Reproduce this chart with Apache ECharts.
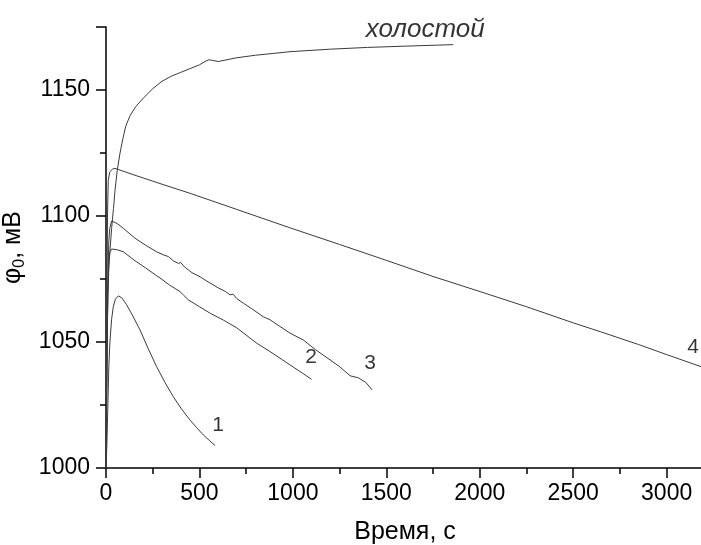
<!DOCTYPE html>
<html>
<head>
<meta charset="utf-8">
<script src="https://cdn.jsdelivr.net/npm/echarts@6/dist/echarts.min.js"></script>
<style>
html, body { margin: 0; padding: 0; background: #fff; }
#chart1 { width: 701px; height: 545px; }
</style>
</head>
<body>
<div id="chart1"></div>
<script>
// time, s and potential, mV
var tBlank = [0, 3, 6, 10, 15, 21, 30, 40, 48, 60, 75, 90, 102, 110, 130, 160, 200, 250, 300, 350, 400, 450, 500, 530, 550, 566, 600, 700, 800, 985, 1200, 1400, 1600, 1858];
var vBlank = [1000, 1025, 1050, 1068, 1079, 1086, 1095, 1103, 1110, 1118, 1125, 1130.5, 1134.5, 1136.5, 1140, 1143.5, 1146.8, 1150.5, 1153.5, 1155.5, 1157, 1158.5, 1160, 1161.3, 1162, 1161.8, 1161.3, 1162.8, 1163.8, 1165.2, 1166.2, 1166.9, 1167.4, 1168];

var t1 = [0, 5, 10, 15, 21, 30, 39, 50, 66, 85, 110, 140, 182, 225, 271, 315, 360, 405, 450, 485, 521, 555, 584];
var v1 = [1000, 1010, 1025, 1040, 1050, 1059, 1064, 1067, 1068.3, 1067.5, 1064.8, 1060.8, 1054.8, 1047.5, 1040.2, 1034, 1028.3, 1023.3, 1019, 1016, 1013.1, 1010.8, 1008.9];

var t2 = [0, 5, 10, 15, 20, 30, 60, 93, 150, 210, 271, 289, 340, 396, 415, 425, 441, 500, 560, 628, 700, 807, 878, 985, 1050, 1100];
var v2 = [1000, 1040, 1070, 1082, 1085.5, 1086.9, 1086.6, 1085.8, 1082.5, 1079.5, 1076.3, 1075.4, 1072.6, 1070, 1068.6, 1068.8, 1066.7, 1064, 1061.3, 1058.7, 1055.6, 1049.5, 1046.2, 1040.9, 1037.7, 1035.2];

var t3 = [0, 5, 10, 15, 20, 30, 60, 93, 155, 210, 271, 310, 334, 360, 387, 400, 420, 460, 503, 530, 600, 640, 664, 680, 700, 735, 780, 842, 878, 930, 985, 1056, 1120, 1199, 1250, 1306, 1350, 1390, 1424];
var v3 = [1000, 1040, 1075, 1090, 1095, 1098, 1097, 1095.1, 1091.2, 1088.5, 1085.8, 1084.5, 1083.9, 1082.2, 1081.2, 1081.5, 1079.8, 1077.5, 1075.9, 1074.6, 1071.5, 1070, 1068.7, 1069, 1067.2, 1065.4, 1063.2, 1060, 1058.8, 1056.2, 1053.5, 1050.8, 1047, 1042.9, 1040.2, 1036.6, 1035.8, 1034, 1031];

var t4 = [0, 4, 8, 12, 20, 35, 48, 150, 300, 450, 700, 985, 1250, 1500, 1750, 2002, 2250, 2500, 2645, 2850, 3000, 3200];
var v4 = [1000, 1050, 1100, 1114, 1117.5, 1118.6, 1118.9, 1116.3, 1112.6, 1109, 1102.6, 1095.3, 1088.7, 1082.4, 1076, 1070, 1064, 1057.6, 1054.1, 1049, 1045, 1039.8];

// curve captions and where they sit (data units)
var noteText = ['холостой', '1', '2', '3', '4'];
var noteT = [1708, 600, 1097, 1413, 3142];
var noteV = [1174, 1017, 1044, 1041.7, 1048];

var FONT = 'Liberation Sans';

function pairs(t, v) {
    return t.map(function (x, i) { return [x, v[i]]; });
}

function curve(t, v) {
    return {
        type: 'line',
        data: pairs(t, v),
        showSymbol: false,
        symbol: 'none',
        silent: true,
        lineStyle: { color: '#3a3a3a', width: 1 }
    };
}

var dom = document.getElementById('chart1');
var myChart = echarts.init(dom);

var axisCommon = {
    axisLine: { lineStyle: { color: '#000', width: 1.5 } },
    axisTick: { inside: false, length: 10, lineStyle: { color: '#000', width: 1.5 } },
    minorTick: { show: true, splitNumber: 2, length: 6, lineStyle: { color: '#000', width: 1.5 } },
    splitLine: { show: false },
    minorSplitLine: { show: false }
};

var option = {
    animation: false,
    backgroundColor: '#fff',
    grid: { left: 106, top: 27, width: 598, height: 441, containLabel: false, outerBoundsMode: 'none' },
    xAxis: Object.assign({
        type: 'value',
        min: 0,
        max: 3200,
        interval: 500,
        name: 'Время, с',
        nameLocation: 'middle',
        nameGap: 52,
        nameTextStyle: { fontFamily: FONT, fontSize: 25, color: '#000' },
        axisLabel: {
            fontFamily: FONT, fontSize: 23, color: '#000', margin: 14, showMaxLabel: false,
            formatter: function (v) { return String(v); }
        }
    }, axisCommon),
    yAxis: Object.assign({
        type: 'value',
        min: 1000,
        max: 1175,
        interval: 50,
        name: '{a|φ}{s|0}{a|, мВ}',
        nameLocation: 'middle',
        nameGap: 74,
        nameTextStyle: {
            fontFamily: FONT, fontSize: 25, color: '#000',
            rich: {
                a: { fontFamily: FONT, fontSize: 25, color: '#000' },
                s: { fontFamily: FONT, fontSize: 16, color: '#000', verticalAlign: 'bottom', padding: [13, 0, 0, 0] }
            }
        },
        axisLabel: {
            fontFamily: FONT, fontSize: 23, color: '#000', margin: 16, showMaxLabel: false,
            formatter: function (v) { return String(v); }
        }
    }, axisCommon),
    series: [
        curve(tBlank, vBlank),
        curve(t1, v1),
        curve(t2, v2),
        curve(t3, v3),
        curve(t4, v4),
        {
            type: 'scatter',
            symbolSize: 0,
            silent: true,
            data: noteText.map(function (s, i) { return { value: [noteT[i], noteV[i]], name: s }; }),
            label: {
                show: true,
                position: 'inside',
                formatter: function (p) { return p.name; },
                fontFamily: FONT,
                color: '#000',
                fontSize: 21
            },
            labelLayout: { hideOverlap: false }
        }
    ]
};

// the blank caption is italic and a bit larger
option.series[5].data[0].label = { fontStyle: 'italic', fontSize: 26 };

myChart.setOption(option, true);
</script>
</body>
</html>
